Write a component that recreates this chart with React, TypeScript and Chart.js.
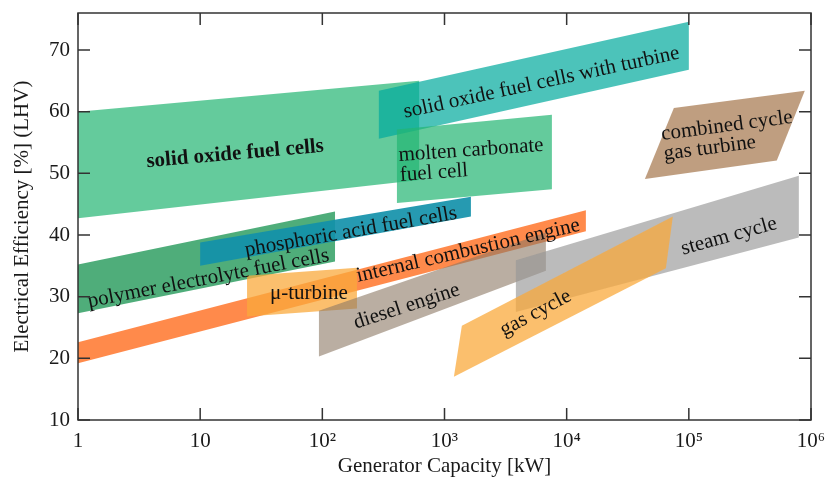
import React, { useEffect, useRef } from 'react';
import { Chart, registerables } from 'chart.js';

Chart.register(...registerables);

// ---- axis ticks ----
const xTicks = [1, 10, 100, 1000, 10000, 100000, 1000000];
const xTickLabels = ['1', '10', '10²', '10³', '10⁴', '10⁵', '10⁶'];
const yTicks = [10, 20, 30, 40, 50, 60, 70];

// ---- regions: [capacity kW, efficiency %] corners ----
const sofc = [[1, 60], [620, 65], [620, 48.9], [1, 42.7]];
const sofcTurbine = [[290, 63.4], [100000, 74.6], [100000, 66.8], [290, 55.6]];
const mcfc = [[408, 57.1], [7570, 59.5], [7570, 47.4], [408, 45.2]];
const pemfc = [[1, 35.2], [127, 43.8], [127, 35.7], [1, 27.3]];
const pafc = [[10, 38.8], [1645, 46.2], [1645, 43.0], [10, 35.0]];
const ice = [[1, 22.6], [14360, 44.0], [14360, 40.6], [1, 19.2]];
const microTurbine = [[24.2, 33.4], [192, 34.7], [192, 28.1], [24.2, 26.8]];
const diesel = [[93.8, 27.7], [6760, 40.4], [6760, 34.2], [93.8, 20.3]];
const steam = [[3840, 35.9], [795000, 49.6], [795000, 39.6], [3840, 27.5]];
const gasCycle = [[1387, 25.3], [74000, 43.0], [64900, 34.6], [1194, 17.0]];
const combined = [[75400, 60.6], [890000, 63.4], [525000, 52.1], [43700, 49.1]];

// ---- label anchors (baseline start, data coords) ----
const labelTexts = [
  ['solid oxide fuel cells'],
  ['solid oxide fuel cells with turbine'],
  ['molten carbonate', 'fuel cell'],
  ['phosphoric acid fuel cells'],
  ['polymer electrolyte fuel cells'],
  ['μ-turbine'],
  ['internal combustion engine'],
  ['diesel engine'],
  ['gas cycle'],
  ['steam cycle'],
  ['combined cycle', 'gas turbine'],
];
const labelX = [3.67, 475, 424, 23.7, 1.23, 37.3, 196, 189, 3070, 89600, 60300];
const labelY = [51.0, 59.0, 52.0, 36.6, 28.3, 29.6, 32.4, 24.8, 23.6, 36.8, 55.4];

// ---- styles (drawn bottom to top) ----
const regionStyles = [
  { pts: sofc, color: 'rgba(34,181,114,0.7)' },
  { pts: sofcTurbine, color: 'rgba(0,170,156,0.7)' },
  { pts: mcfc, color: 'rgba(34,181,114,0.7)' },
  { pts: pemfc, color: 'rgba(30,150,85,0.78)' },
  { pts: pafc, color: 'rgba(20,145,170,0.92)' },
  { pts: ice, color: 'rgba(255,125,55,0.9)' },
  { pts: microTurbine, color: 'rgba(250,170,60,0.75)' },
  { pts: diesel, color: 'rgba(140,120,100,0.6)' },
  { pts: steam, color: 'rgba(150,150,150,0.65)' },
  { pts: gasCycle, color: 'rgba(250,170,60,0.75)' },
  { pts: combined, color: 'rgba(170,125,85,0.75)' },
];
const labelAngles = [-5, -12.2, -4, -10, -10.9, 0, -13, -18, -28, -15.5, -7.5];
const labelBold = [true, false, false, false, false, false, false, false, false, false, false];

const FONT = "'Liberation Serif', 'Times New Roman', serif";

const framePlugin = {
  id: 'frame',
  afterDatasetsDraw(chart: any) {
    const { ctx, chartArea: a, scales } = chart;
    const xs = scales.x;
    const ys = scales.y;
    ctx.save();
    ctx.strokeStyle = '#333';
    ctx.lineWidth = 1.5;
    const L = 12;
    ctx.beginPath();
    xTicks.forEach((v) => {
      const p = xs.getPixelForValue(v);
      ctx.moveTo(p, a.bottom);
      ctx.lineTo(p, a.bottom - L);
      ctx.moveTo(p, a.top);
      ctx.lineTo(p, a.top + L);
    });
    yTicks.forEach((v) => {
      const p = ys.getPixelForValue(v);
      ctx.moveTo(a.left, p);
      ctx.lineTo(a.left + L, p);
      ctx.moveTo(a.right, p);
      ctx.lineTo(a.right - L, p);
    });
    ctx.stroke();
    ctx.strokeRect(a.left, a.top, a.right - a.left, a.bottom - a.top);
    ctx.restore();
  },
};

const labelPlugin = {
  id: 'regionLabels',
  afterDatasetsDraw(chart: any) {
    const { ctx, scales } = chart;
    ctx.save();
    ctx.fillStyle = '#111';
    ctx.textAlign = 'left';
    ctx.textBaseline = 'alphabetic';
    labelTexts.forEach((lines, i) => {
      const px = scales.x.getPixelForValue(labelX[i]);
      const py = scales.y.getPixelForValue(labelY[i]);
      ctx.save();
      ctx.translate(px, py);
      ctx.rotate((labelAngles[i] * Math.PI) / 180);
      ctx.font = `${labelBold[i] ? 'bold ' : ''}21px ${FONT}`;
      lines.forEach((t, j) => ctx.fillText(t, 0, j * 20));
      ctx.restore();
    });
    ctx.restore();
  },
};

export default function App() {
  const ref = useRef<HTMLCanvasElement>(null);
  useEffect(() => {
    if (!ref.current) return;
    const n = regionStyles.length;
    const chart = new Chart(ref.current, {
      type: 'line',
      data: {
        datasets: regionStyles.map((r, i) => ({
          data: r.pts.map(([x, y]) => ({ x, y })),
          order: n - i,
          backgroundColor: r.color,
          borderColor: 'rgba(0,0,0,0)',
          borderWidth: 0,
          pointRadius: 0,
          pointHoverRadius: 0,
          tension: 0,
          fill: 'shape',
        })),
      },
      options: {
        animation: false,
        responsive: false,
        maintainAspectRatio: false,
        events: [],
        layout: { padding: { left: 0, right: 14, top: 13, bottom: 0 } },
        plugins: {
          legend: { display: false },
          tooltip: { enabled: false },
        },
        scales: {
          x: {
            type: 'logarithmic',
            min: 1,
            max: 1000000,
            afterBuildTicks: (s: any) => {
              s.ticks = xTicks.map((v) => ({ value: v }));
            },
            afterFit: (s: any) => {
              s.height = 57;
              s.paddingLeft = 0;
              s.paddingRight = 0;
            },
            grid: { display: false, drawTicks: false },
            border: { display: false },
            ticks: {
              autoSkip: false,
              maxRotation: 0,
              minRotation: 0,
              padding: 9,
              color: '#1a1a1a',
              font: { family: FONT, size: 21 },
              callback: (v: any) => xTickLabels[xTicks.indexOf(Number(v))] ?? '',
            },
            title: {
              display: true,
              text: 'Generator Capacity [kW]',
              color: '#1a1a1a',
              font: { family: FONT, size: 21 },
              padding: { top: 0, bottom: -2 },
            },
          },
          y: {
            type: 'linear',
            min: 10,
            max: 76,
            afterBuildTicks: (s: any) => {
              s.ticks = yTicks.map((v) => ({ value: v }));
            },
            afterFit: (s: any) => {
              s.width = 78;
              s.paddingTop = 0;
              s.paddingBottom = 0;
            },
            grid: { display: false, drawTicks: false },
            border: { display: false },
            ticks: {
              padding: 8,
              color: '#1a1a1a',
              font: { family: FONT, size: 21 },
            },
            title: {
              display: true,
              text: 'Electrical Efficiency [%] (LHV)',
              color: '#1a1a1a',
              font: { family: FONT, size: 21 },
              padding: { top: 10, bottom: 0 },
            },
          },
        },
      } as any,
      plugins: [labelPlugin, framePlugin],
    });
    return () => chart.destroy();
  }, []);
  return (
    <div style={{ position: 'absolute', left: 0, top: 0, width: 825, height: 477 }}>
      <canvas ref={ref} width={825} height={477} style={{ display: 'block' }} />
    </div>
  );
}
